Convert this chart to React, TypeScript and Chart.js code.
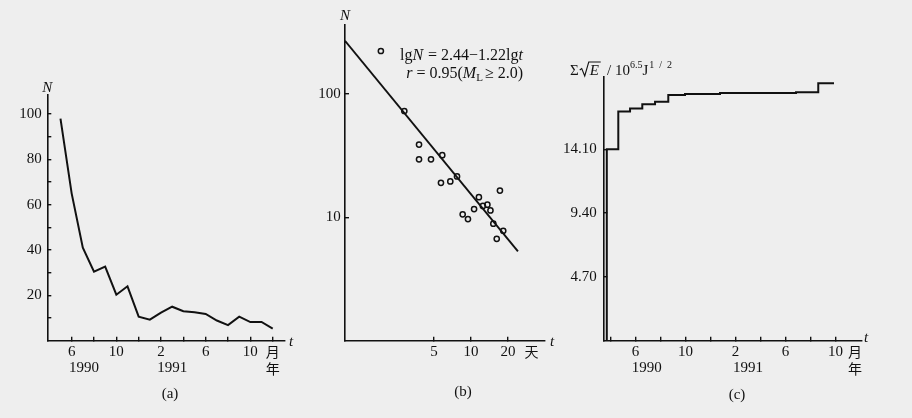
import React, { useEffect, useRef } from 'react';
import { Chart, registerables } from 'chart.js';
Chart.register(...registerables);

const SERIF = '"Liberation Serif", "DejaVu Serif", serif';
const CJK = '"Noto Sans CJK SC", sans-serif';
const INK = '#111111';
const BG = '#eeeeee';

// ---------- panel (a): monthly counts ----------
const monthsA = [5, 6, 7, 8, 9, 10, 11, 12, 13, 14, 15, 16, 17, 18, 19, 20, 21, 22, 23, 24];
const countsA = [98, 65, 41, 30.5, 32.7, 20.3, 24, 10.6, 9.3, 12.4, 15, 13, 12.5, 11.8, 8.9, 6.9, 10.6, 8.2, 8.3, 5.3];
const tickMonthsA = [6, 8, 10, 12, 14, 16, 18, 20, 22, 24];
const yTicksA = [10, 20, 30, 40, 50, 60, 70, 80, 90, 100];
const yLabelsA = [20, 40, 60, 80, 100];

// month tick labels (month index from Jan 1990 = 1)
const monthLabels: Record<number, string> = { 6: '6', 10: '10', 14: '2', 18: '6', 22: '10' };

// ---------- panel (b): daily counts, log-log ----------
const daysB = [1.85, 2.87, 3.78, 3.78, 4.73, 5.84, 5.7, 6.79, 7.7, 8.56, 9.45, 10.6, 11.6, 12.5, 13.6, 14.4, 15.2, 16.2, 17.2, 18.3];
const countsB = [224, 73, 39, 29.6, 29.6, 32, 19.1, 19.6, 21.5, 10.6, 9.7, 11.7, 14.6, 12.4, 12.7, 11.4, 8.9, 6.7, 16.5, 7.8];
const fitDaysB = [0.945, 24.1];
const fitCountsB = [271, 5.3];
const xTicksB = [5, 10, 20];
const yTicksB = [10, 100];

// ---------- panel (c): cumulative strain release ----------
const stepMonthsC = [3.7, 3.7, 4.62, 5.56, 6.54, 7.56, 8.62, 9.96, 12.76, 18.84, 20.62, 21.88];
const stepEnergyC = [0, 14.1, 16.88, 17.1, 17.42, 17.61, 18.1, 18.18, 18.25, 18.3, 18.97, 18.97];
const tickMonthsC = [4, 6, 8, 10, 12, 14, 16, 18, 20, 22];
const yTicksC = [4.7, 9.4, 14.1];

type Seg = { t: string; font: string; dy?: number; gap?: number };

function drawRich(ctx: CanvasRenderingContext2D, segs: Seg[], x: number, y: number, align: 'left' | 'right' | 'center') {
  ctx.save();
  ctx.textBaseline = 'alphabetic';
  ctx.textAlign = 'left';
  ctx.fillStyle = INK;
  let total = 0;
  for (const s of segs) {
    ctx.font = s.font;
    total += ctx.measureText(s.t).width + (s.gap || 0);
  }
  let cx = align === 'left' ? x : align === 'right' ? x - total : x - total / 2;
  for (const s of segs) {
    ctx.font = s.font;
    ctx.fillText(s.t, cx, y + (s.dy || 0));
    cx += ctx.measureText(s.t).width + (s.gap || 0);
  }
  ctx.restore();
}

function text(ctx: CanvasRenderingContext2D, t: string, x: number, y: number, font: string, align: CanvasTextAlign = 'center') {
  ctx.save();
  ctx.font = font;
  ctx.fillStyle = INK;
  ctx.textAlign = align;
  ctx.textBaseline = 'middle';
  ctx.fillText(t, x, y);
  ctx.restore();
}

const F15 = `15px ${SERIF}`;
const I15 = `italic 15px ${SERIF}`;
const F16 = `16px ${SERIF}`;
const I16 = `italic 16px ${SERIF}`;
const C14 = `14px ${CJK}`;

function axisBase(padding: number, isY: boolean) {
  return {
    bounds: 'data',
    border: { display: true, color: INK, width: 1.6 },
    grid: { display: true, drawOnChartArea: false, drawTicks: true, tickLength: -4, color: INK, lineWidth: 1.4 },
    ticks: { color: INK, font: { family: SERIF, size: 15 }, padding, autoSkip: false, maxRotation: 0, minRotation: 0 },
    afterFit: (s: any) => {
      if (isY) s.width = 40; else s.height = 30;
      s.paddingLeft = 0; s.paddingRight = 0; s.paddingTop = 0; s.paddingBottom = 0;
    },
  };
}

const common = {
  responsive: false,
  animation: false,
  events: [],
  plugins: { legend: { display: false }, tooltip: { enabled: false } },
};

function makeA(): any {
  return {
    type: 'line',
    data: {
      datasets: [{
        data: monthsA.map((m, i) => ({ x: m, y: countsA[i] })),
        borderColor: INK, borderWidth: 2, pointRadius: 0, tension: 0, fill: false,
      }],
    },
    options: {
      ...common,
      layout: { padding: { left: 7.3, top: 95, right: 15, bottom: 47.3 } },
      scales: {
        x: {
          ...axisBase(6.3, false), type: 'linear', min: 3.82, max: 25.1,
          afterBuildTicks: (s: any) => { s.ticks = tickMonthsA.map((v) => ({ value: v })); },
          ticks: { ...axisBase(6.3, false).ticks, callback: (v: any) => monthLabels[v] || '' },
        },
        y: {
          ...axisBase(9.6, true), type: 'linear', min: 0, max: 108.4,
          afterBuildTicks: (s: any) => { s.ticks = yTicksA.map((v) => ({ value: v })); },
          ticks: { ...axisBase(9.6, true).ticks, callback: (v: any) => (yLabelsA.includes(v) ? String(v) : '') },
        },
      },
    },
    plugins: [{
      id: 'txtA',
      afterDraw(chart: any) {
        const ctx = chart.ctx; const a = chart.chartArea; const x = chart.scales.x;
        text(ctx, 'N', a.left, a.top - 7, I15);
        text(ctx, 't', a.right + 6, a.bottom + 1, I15);
        text(ctx, '1990', x.getPixelForValue(7.1), a.bottom + 27.5, F15);
        text(ctx, '1991', x.getPixelForValue(15), a.bottom + 27.5, F15);
        text(ctx, '月', x.getPixelForValue(24), a.bottom + 11.3, C14);
        text(ctx, '年', x.getPixelForValue(24), a.bottom + 27.5, C14);
        text(ctx, '(a)', 170, 394, F15);
      },
    }],
  };
}

function makeB(): any {
  return {
    type: 'scatter',
    data: {
      datasets: [
        {
          data: daysB.map((d, i) => ({ x: d, y: countsB[i] })),
          showLine: false, pointRadius: 2.6, pointBorderWidth: 1.5,
          pointBorderColor: INK, pointBackgroundColor: 'rgba(0,0,0,0)',
        },
        {
          data: fitDaysB.map((d, i) => ({ x: d, y: fitCountsB[i] })),
          showLine: true, borderColor: INK, borderWidth: 1.9, pointRadius: 0, fill: false,
        },
      ],
    },
    options: {
      ...common,
      layout: { padding: { left: 5, top: 25, right: 15, bottom: 47.3 } },
      scales: {
        x: {
          ...axisBase(6.3, false), type: 'logarithmic', min: 0.945, max: 40,
          afterBuildTicks: (s: any) => { s.ticks = xTicksB.map((v) => ({ value: v })); },
          ticks: { ...axisBase(6.3, false).ticks, callback: (v: any) => String(v) },
        },
        y: {
          ...axisBase(8.3, true), type: 'logarithmic', min: 1, max: 364,
          afterBuildTicks: (s: any) => { s.ticks = yTicksB.map((v) => ({ value: v })); },
          ticks: { ...axisBase(8.3, true).ticks, callback: (v: any) => String(v) },
        },
      },
    },
    plugins: [{
      id: 'txtB',
      afterDraw(chart: any) {
        const ctx = chart.ctx; const a = chart.chartArea; const x = chart.scales.x;
        const ox = 300;
        text(ctx, 'N', a.left, a.top - 9, I15);
        text(ctx, 't', a.right + 7, a.bottom + 1, I15);
        text(ctx, '天', x.getPixelForValue(31), a.bottom + 11.3, C14);
        drawRich(ctx, [
          { t: 'lg', font: F16 }, { t: 'N', font: I16, gap: 1 },
          { t: ' = 2.44−1.22lg', font: F16 }, { t: 't', font: I16 },
        ], 523 - ox, 60, 'right');
        drawRich(ctx, [
          { t: 'r', font: I16 }, { t: ' = 0.95(', font: F16 },
          { t: 'M', font: I16 }, { t: 'L', font: `11px ${SERIF}`, dy: 3, gap: 2 },
          { t: '≥ 2.0)', font: F16 },
        ], 523 - ox, 78, 'right');
        text(ctx, '(b)', 463 - ox, 392, F15);
      },
    }],
  };
}

function makeC(): any {
  return {
    type: 'line',
    data: {
      datasets: [{
        data: stepMonthsC.map((m, i) => ({ x: m, y: stepEnergyC[i] })),
        stepped: 'before', borderColor: INK, borderWidth: 2, pointRadius: 0, fill: false,
      }],
    },
    options: {
      ...common,
      layout: { padding: { left: 3.3, top: 77, right: 50, bottom: 47.3 } },
      scales: {
        x: {
          ...axisBase(6.3, false), type: 'linear', min: 3.42, max: 24.12,
          afterBuildTicks: (s: any) => { s.ticks = tickMonthsC.map((v) => ({ value: v })); },
          ticks: { ...axisBase(6.3, false).ticks, callback: (v: any) => monthLabels[v] || '' },
        },
        y: {
          ...axisBase(10.6, true), type: 'linear', min: 0, max: 19.43,
          afterBuildTicks: (s: any) => { s.ticks = yTicksC.map((v) => ({ value: v })); },
          ticks: { ...axisBase(10.6, true).ticks, callback: (v: any) => Number(v).toFixed(2) },
        },
      },
    },
    plugins: [{
      id: 'txtC',
      afterDraw(chart: any) {
        const ctx = chart.ctx; const a = chart.chartArea; const x = chart.scales.x;
        const ox = 560;
        text(ctx, 't', a.right + 4, a.bottom - 3, I15);
        text(ctx, '1990', x.getPixelForValue(6.9), a.bottom + 27.5, F15);
        text(ctx, '1991', x.getPixelForValue(15), a.bottom + 27.5, F15);
        text(ctx, '月', x.getPixelForValue(23.56), a.bottom + 11.3, C14);
        text(ctx, '年', x.getPixelForValue(23.56), a.bottom + 27.5, C14);
        text(ctx, '(c)', 737 - ox, 395, F15);
        // axis title: Σ√E / 10^6.5 J^1/2
        const bx = 570 - ox; const by = 75;
        ctx.save();
        ctx.fillStyle = INK; ctx.textBaseline = 'alphabetic'; ctx.textAlign = 'left';
        ctx.font = F15; ctx.fillText('Σ', bx, by);
        const cx = bx + ctx.measureText('Σ').width;
        ctx.strokeStyle = INK; ctx.lineWidth = 1.1;
        ctx.beginPath();
        ctx.moveTo(cx + 1, by - 5); ctx.lineTo(cx + 3, by - 6.5); ctx.lineTo(cx + 6, by + 1);
        ctx.lineTo(cx + 10, by - 13); ctx.lineTo(cx + 22, by - 13);
        ctx.stroke();
        ctx.font = I15; ctx.fillText('E', cx + 11, by);
        ctx.restore();
        drawRich(ctx, [
          { t: '/ 10', font: F15 }, { t: '6.5', font: `10px ${SERIF}`, dy: -7 },
          { t: 'J', font: F15, gap: 1 }, { t: '1  /  2', font: `10px ${SERIF}`, dy: -7 },
        ], 607 - ox, by, 'left');
      },
    }],
  };
}

function Panel({ left, width, make }: { left: number; width: number; make: () => any }) {
  const ref = useRef<HTMLCanvasElement>(null);
  useEffect(() => {
    const c = new Chart(ref.current as HTMLCanvasElement, make());
    return () => c.destroy();
  }, []);
  return (
    <canvas ref={ref} width={width} height={418}
      style={{ position: 'absolute', left, top: 0, width, height: 418 }} />
  );
}

export default function App() {
  return (
    <div style={{ position: 'absolute', left: 0, top: 0, width: 912, height: 418, background: BG, overflow: 'hidden' }}>
      <Panel left={0} width={300} make={makeA} />
      <Panel left={300} width={260} make={makeB} />
      <Panel left={560} width={352} make={makeC} />
    </div>
  );
}
